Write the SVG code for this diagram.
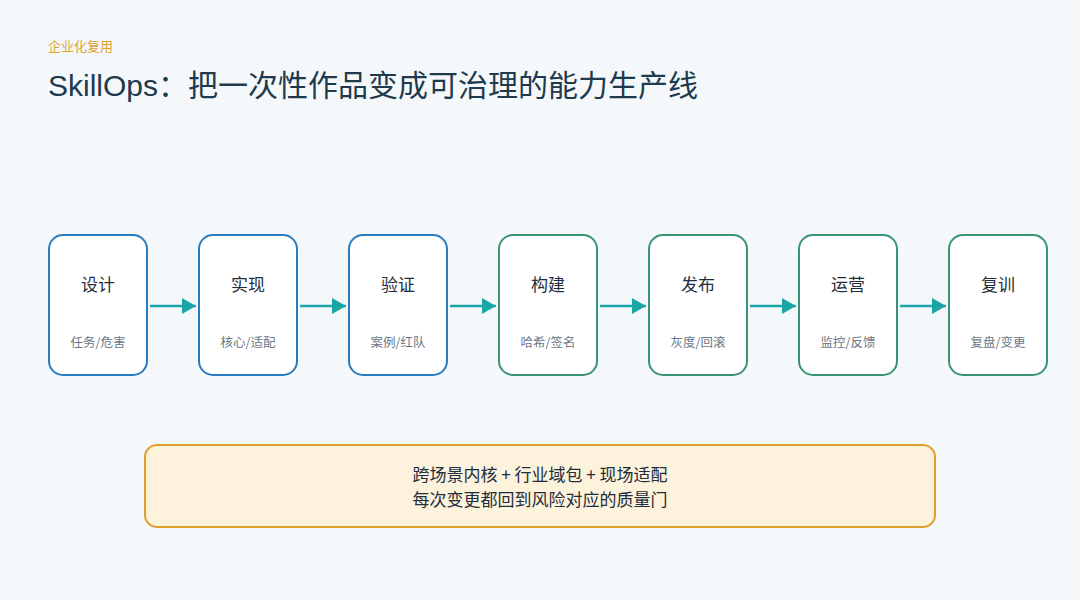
<svg xmlns="http://www.w3.org/2000/svg" width="1080" height="600" viewBox="0 0 1080 600">
<style>
text{font-family:"Noto Sans CJK SC","Liberation Sans",sans-serif}
.b{fill:#fff;stroke:#2a7cc0;stroke-width:2}
.g{fill:#fff;stroke:#3a9378;stroke-width:2}
.t{font-size:17px;fill:#1f2d3d;text-anchor:middle}
.s{font-size:12.5px;fill:#6b7785;text-anchor:middle}
.c{stroke:#1aa6a6;stroke-width:2.5;fill:none;marker-end:url(#a)}
</style>
<defs><marker id="a" markerWidth="14" markerHeight="16" refX="14" refY="8" orient="auto" markerUnits="userSpaceOnUse"><path d="M0,0L14,8L0,16z" fill="#1aa6a6"/></marker></defs>
<rect width="1080" height="600" fill="#f4f8fb"/>
<text x="48" y="51" font-size="13" fill="#e0a030">企业化复用</text>
<text x="48" y="96" font-size="30" fill="#1f3a4d"><tspan font-family="Liberation Sans">SkillOps</tspan>：把一次性作品变成可治理的能力生产线</text>
<g id="connectors">
<path class="c" d="M150,306H196"/><path class="c" d="M300,306H346"/><path class="c" d="M450,306H496"/><path class="c" d="M600,306H646"/><path class="c" d="M750,306H796"/><path class="c" d="M900,306H946"/>
</g>
<g id="n1"><rect class="b" x="49" y="235" width="98" height="140" rx="14"/><text class="t" x="98" y="291">设计</text><text class="s" x="98" y="347">任务/危害</text></g>
<g id="n2"><rect class="b" x="199" y="235" width="98" height="140" rx="14"/><text class="t" x="248" y="291">实现</text><text class="s" x="248" y="347">核心/适配</text></g>
<g id="n3"><rect class="b" x="349" y="235" width="98" height="140" rx="14"/><text class="t" x="398" y="291">验证</text><text class="s" x="398" y="347">案例/红队</text></g>
<g id="n4"><rect class="g" x="499" y="235" width="98" height="140" rx="14"/><text class="t" x="548" y="291">构建</text><text class="s" x="548" y="347">哈希/签名</text></g>
<g id="n5"><rect class="g" x="649" y="235" width="98" height="140" rx="14"/><text class="t" x="698" y="291">发布</text><text class="s" x="698" y="347">灰度/回滚</text></g>
<g id="n6"><rect class="g" x="799" y="235" width="98" height="140" rx="14"/><text class="t" x="848" y="291">运营</text><text class="s" x="848" y="347">监控/反馈</text></g>
<g id="n7"><rect class="g" x="949" y="235" width="98" height="140" rx="14"/><text class="t" x="998" y="291">复训</text><text class="s" x="998" y="347">复盘/变更</text></g>
<g id="note"><rect x="145" y="445" width="790" height="82" rx="12" fill="#fdf3dc" stroke="#e0a030" stroke-width="2"/>
<text class="t" x="540" y="481" font-size="16">跨场景内核 + 行业域包 + 现场适配</text>
<text class="t" x="540" y="506" font-size="16">每次变更都回到风险对应的质量门</text></g>
</svg>
